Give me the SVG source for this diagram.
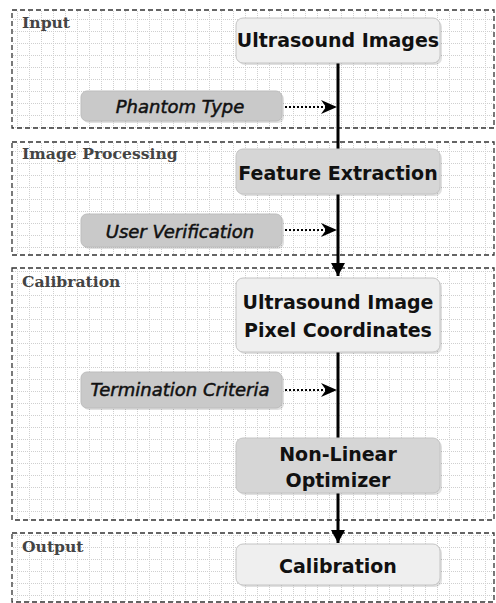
<svg xmlns="http://www.w3.org/2000/svg" width="496" height="603" viewBox="0 0 496 603">
<style>
.panel{fill:url(#grid);stroke:#333;stroke-width:1.3;stroke-dasharray:5 3}
.ptitle{font-family:"DejaVu Serif",serif;font-weight:bold;font-size:15.6px;fill:#444}
.node{stroke:#c4c4c4;stroke-width:1}
.light{fill:#efefef}
.dark{fill:#d6d6d6}
.side{fill:#c9c9c9;stroke:#bdbdbd;stroke-width:1}
.shadow{fill:#000;opacity:0.12}
.ntext{font-family:"DejaVu Sans",sans-serif;font-weight:bold;font-size:19px;fill:#111;text-anchor:middle}
.stext{font-family:"DejaVu Sans",sans-serif;font-style:italic;font-size:18px;fill:#111;text-anchor:middle;stroke:#111;stroke-width:0.5}
.main{stroke:#000;stroke-width:3;fill:none}
.dot{stroke:#000;stroke-width:2;stroke-dasharray:2 2;fill:none}
</style>
<defs>
<pattern id="grid" patternUnits="userSpaceOnUse" x="5" y="7" width="12" height="12">
<rect width="12" height="12" fill="#fff"/>
<line x1="0" y1="0.5" x2="12" y2="0.5" stroke="#cfcfcf" stroke-width="1" stroke-dasharray="1 1"/>
<line x1="0.5" y1="0" x2="0.5" y2="12" stroke="#cfcfcf" stroke-width="1" stroke-dasharray="1 1"/>
</pattern>
<marker id="tri" markerUnits="userSpaceOnUse" markerWidth="14" markerHeight="14" refX="13" refY="7" orient="auto">
<path d="M0,0 L13,7 L0,14 Z" fill="#000"/>
</marker>
<marker id="chev" markerUnits="userSpaceOnUse" markerWidth="18" markerHeight="14" refX="16" refY="7" orient="auto">
<path d="M0,0 L16,7 L0,14 L5,7 Z" fill="#000"/>
</marker>
</defs>

<g id="panel-input">
<rect class="panel" x="12" y="10" width="482" height="118"/>
<text class="ptitle" x="22" y="28">Input</text>
</g>
<g id="panel-image-processing">
<rect class="panel" x="12" y="142" width="482" height="113"/>
<text class="ptitle" x="22" y="159">Image Processing</text>
</g>
<g id="panel-calibration">
<rect class="panel" x="12" y="268" width="482" height="252"/>
<text class="ptitle" x="22" y="287">Calibration</text>
</g>
<g id="panel-output">
<rect class="panel" x="12" y="533" width="482" height="69"/>
<text class="ptitle" x="22" y="552">Output</text>
</g>

<g id="connectors">
<line class="main" x1="338" y1="63" x2="338" y2="149"/>
<line class="main" x1="338" y1="194" x2="338" y2="276" marker-end="url(#tri)"/>
<line class="main" x1="338" y1="352" x2="338" y2="438"/>
<line class="main" x1="338" y1="493" x2="338" y2="543" marker-end="url(#tri)"/>
<line class="dot" x1="285" y1="107" x2="337" y2="107" marker-end="url(#chev)"/>
<line class="dot" x1="285" y1="230" x2="337" y2="230" marker-end="url(#chev)"/>
<line class="dot" x1="285" y1="390" x2="337" y2="390" marker-end="url(#chev)"/>
</g>

<g id="node-ultrasound-images">
<rect class="shadow" x="238" y="20" width="204" height="45" rx="7"/>
<rect class="node light" x="236" y="18" width="204" height="45" rx="7"/>
<text class="ntext" x="338" y="47">Ultrasound Images</text>
</g>
<g id="node-phantom-type">
<rect class="shadow" x="83" y="93" width="201" height="30" rx="6"/>
<rect class="side" x="81" y="91" width="201" height="30" rx="6"/>
<text class="stext" x="180" y="113">Phantom Type</text>
</g>
<g id="node-feature-extraction">
<rect class="shadow" x="238" y="151" width="204" height="45" rx="7"/>
<rect class="node dark" x="236" y="149" width="204" height="45" rx="7"/>
<text class="ntext" x="338" y="180">Feature Extraction</text>
</g>
<g id="node-user-verification">
<rect class="shadow" x="83" y="216" width="201" height="33" rx="6"/>
<rect class="side" x="81" y="214" width="201" height="33" rx="6"/>
<text class="stext" x="180" y="238">User Verification</text>
</g>
<g id="node-pixel-coordinates">
<rect class="shadow" x="238" y="280" width="204" height="74" rx="7"/>
<rect class="node light" x="236" y="278" width="204" height="74" rx="7"/>
<text class="ntext" x="338" y="309">Ultrasound Image</text>
<text class="ntext" x="338" y="337">Pixel Coordinates</text>
</g>
<g id="node-termination-criteria">
<rect class="shadow" x="83" y="374" width="201" height="36" rx="6"/>
<rect class="side" x="81" y="372" width="201" height="36" rx="6"/>
<text class="stext" x="180" y="396">Termination Criteria</text>
</g>
<g id="node-non-linear-optimizer">
<rect class="shadow" x="238" y="440" width="204" height="55" rx="7"/>
<rect class="node dark" x="236" y="438" width="204" height="55" rx="7"/>
<text class="ntext" x="338" y="461">Non-Linear</text>
<text class="ntext" x="338" y="487">Optimizer</text>
</g>
<g id="node-calibration">
<rect class="shadow" x="238" y="546" width="204" height="41" rx="7"/>
<rect class="node light" x="236" y="544" width="204" height="41" rx="7"/>
<text class="ntext" x="338" y="573">Calibration</text>
</g>
</svg>
